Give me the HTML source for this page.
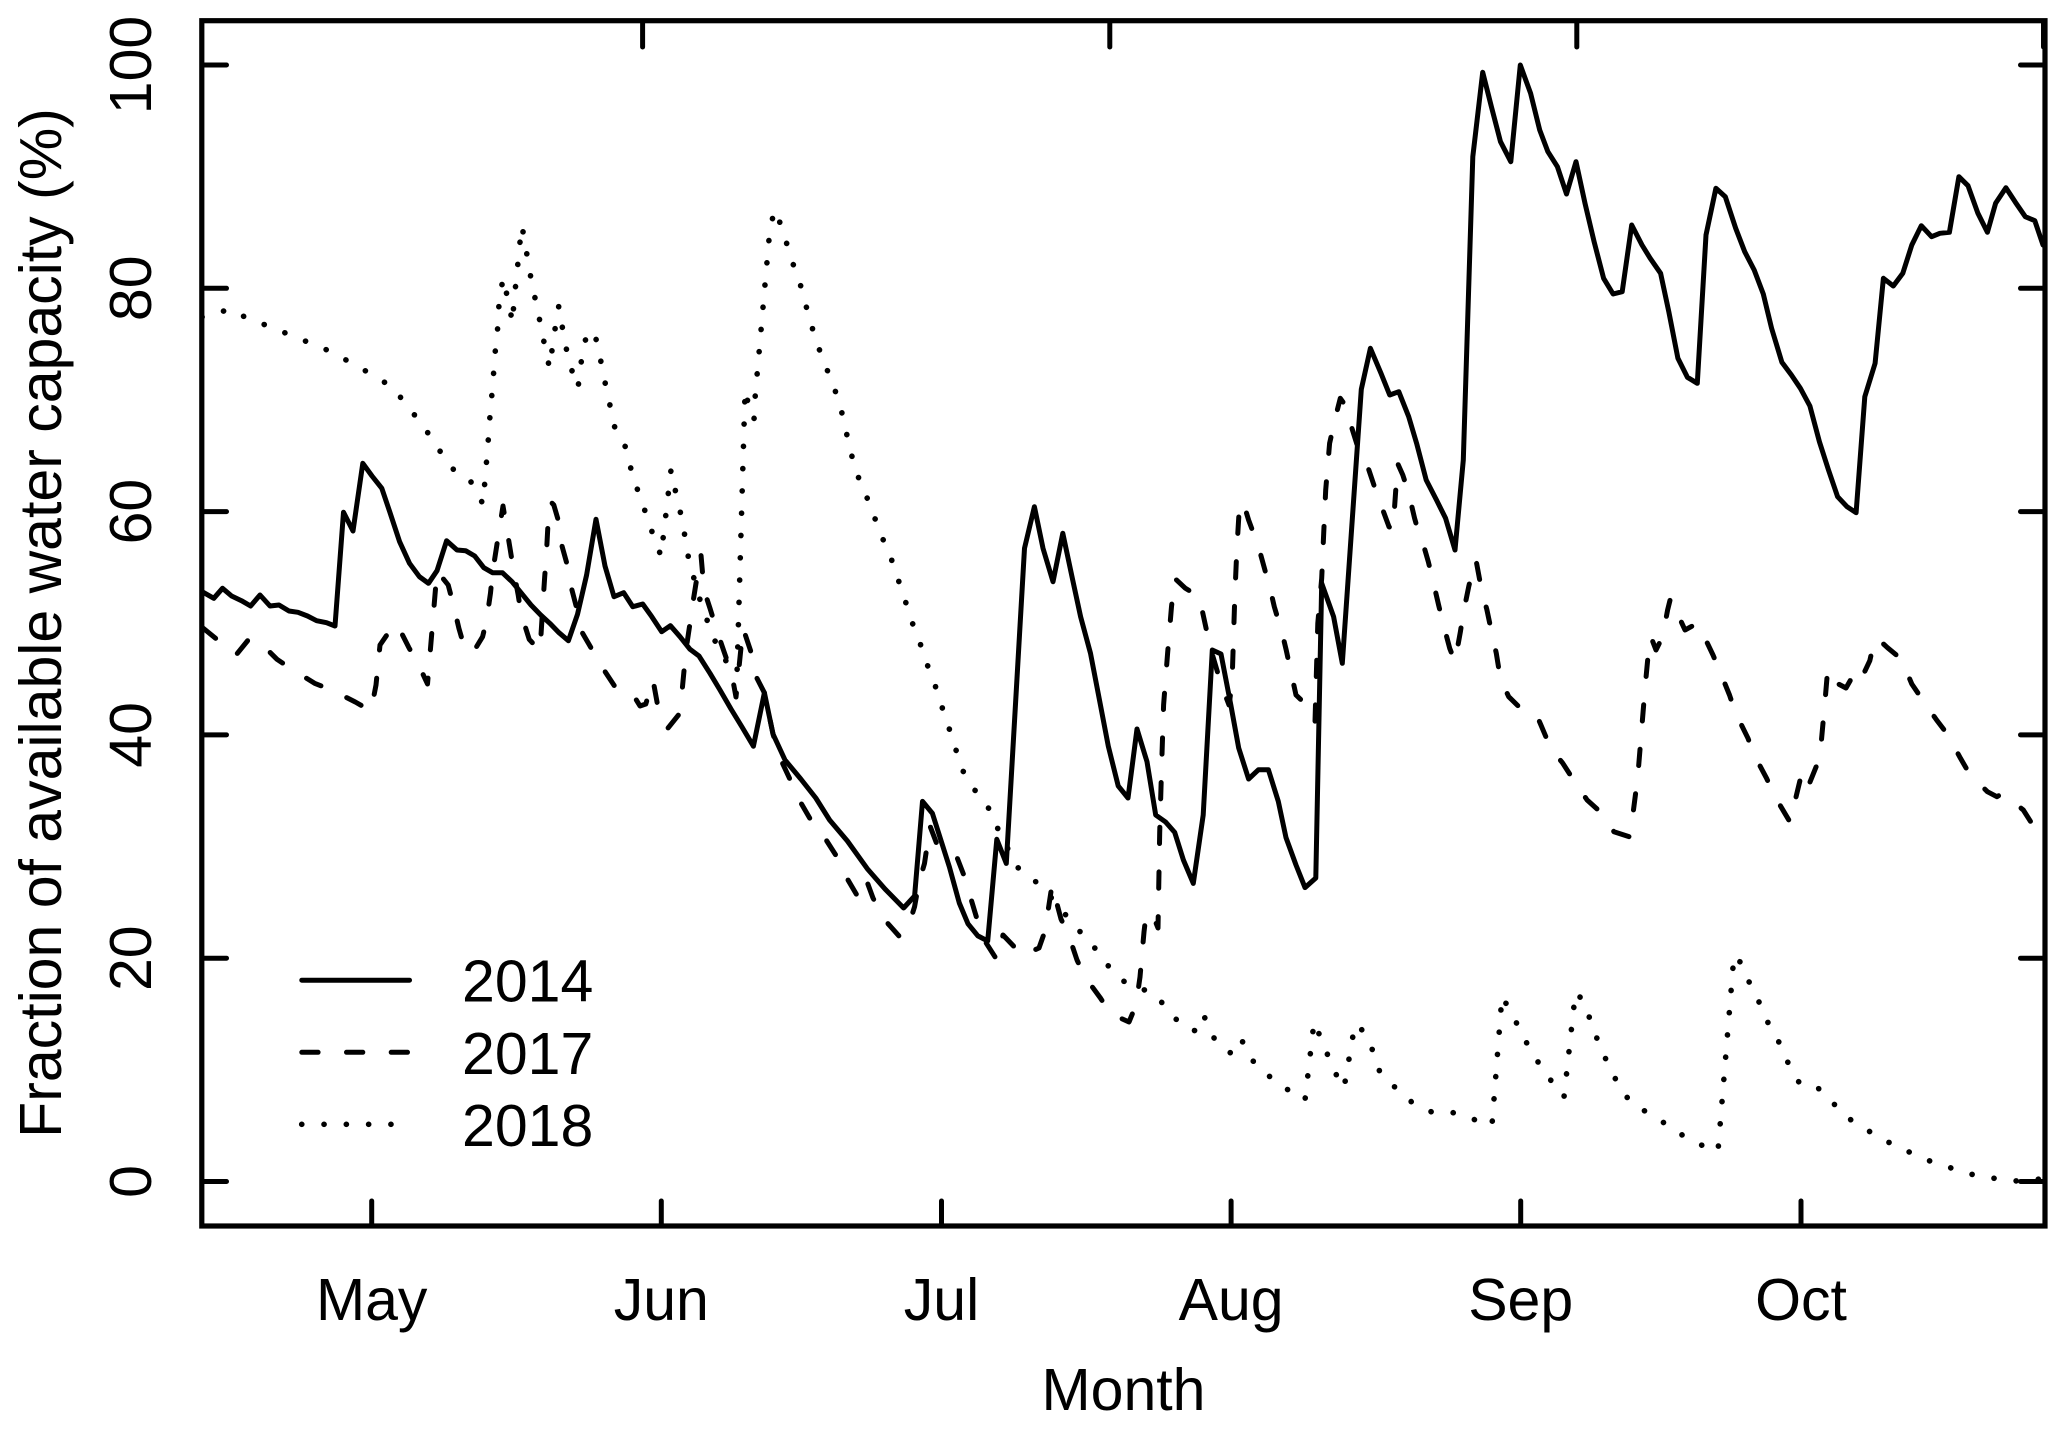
<!DOCTYPE html>
<html>
<head>
<meta charset="utf-8">
<style>
html,body{margin:0;padding:0;background:#fff;}
svg{display:block;}
text{font-family:"Liberation Sans",Arial,Helvetica,sans-serif;font-size:59px;fill:#000;}
</style>
</head>
<body>
<svg width="2067" height="1429" viewBox="0 0 2067 1429" xmlns="http://www.w3.org/2000/svg">
<rect x="0" y="0" width="2067" height="1429" fill="#fff"/>
<defs>
<clipPath id="pa"><rect x="202" y="21" width="1843" height="1205"/></clipPath>
</defs>

<g clip-path="url(#pa)" fill="none" stroke="#000" stroke-linejoin="round" stroke-linecap="round">
<!-- 2014 solid -->
<polyline stroke-width="5" points="201,591 213.8,598.3 222.5,588.3 231.6,596 241.5,600.7 250.6,606 260,595 270,606 279,605 289,611 298,612.3 307.5,616 316.6,620.7 326.5,622.7 335,626 343.5,512.3 353,531 362.8,463.3 372,476 381.8,488.3 389.7,511.7 399.6,541.7 409.5,563.3 419.4,576.7 428.5,583.3 437,570.7 446.6,540.7 457,550 465.6,550.7 474.7,556 483.8,567.7 492.5,572.7 502.4,572.7 512,581.7 521,592.7 531,605 540.7,615 549.8,623.3 559,632.7 568.4,640.7 577.5,614.3 586.6,575 596,519.3 605,566 614,596.7 623.7,592.7 632.8,606.7 642.7,604 651.8,616.7 661.7,631.7 670.4,625.7 680,636.7 690,649.3 699,656 710,673.3 720,690 731,709 742,727 753.4,746.2 764.4,692.8 773,734 785,760 800.8,779 815.8,798 829.6,820 847.4,841 867.2,868.6 885,889 903.6,908 914.6,896 922.5,801.4 932.4,813.4 949.4,867 959.3,903 968,923.8 977.9,935.9 987.7,941 996.8,839.3 1006.3,863.4 1024.5,548.3 1034.4,506.7 1043,548.3 1053,581.7 1062.8,533.3 1072.7,580 1080.6,616.7 1090.5,653.3 1100.4,704.8 1108.3,746.2 1118.2,785.9 1128,798 1137,729 1147,761.7 1155.7,815 1165.6,822 1174.7,832.4 1183.4,860 1193.3,883.4 1203.2,815 1212.3,650 1221,654 1230.8,704.8 1238.7,748 1248.6,779 1258.5,769.7 1268.4,769.7 1278.3,801.4 1286,837.6 1296,865 1305,887.6 1315.8,878 1321.7,583.3 1333.6,616.7 1342.3,663.3 1361.3,389.3 1370.4,348.3 1381,373.3 1389.7,395 1398.8,391.7 1408.7,416.7 1416.6,443.3 1426.2,480 1436.5,500 1445.6,518.3 1455,550 1463.3,460 1472.8,156.7 1482.7,72.3 1491.4,106.7 1500.5,141.7 1510.8,161.7 1520.3,65 1530.6,93.3 1539.7,130 1547.9,151.7 1557.4,166.7 1566.5,194 1576,161.7 1585,203.3 1594.1,241.7 1603.6,278.3 1613.1,294 1622.2,291.7 1631.7,225 1642,245 1650.2,258.3 1660.6,273.3 1668.8,311.7 1677.9,358.3 1687.4,377.3 1697.3,383.3 1706,235 1715.9,188.3 1725.3,196.7 1735.7,228.3 1744.7,251.7 1754.2,270 1763.3,294 1771.6,328.3 1781.9,362.3 1791.4,375 1800.4,388.3 1809.9,406 1819.4,441.7 1828.5,470 1837.6,496.7 1847,506.7 1856.1,512.7 1864.8,396.7 1875.1,363.3 1883.4,278.3 1893.3,286 1902.8,273.3 1911.8,245 1921.3,225.7 1931.6,236.7 1939.9,233.3 1949.4,232.3 1958.9,176.7 1968,185.7 1977.9,213.3 1987.4,232.3 1995.6,203.3 2005.9,187.7 2015.4,202.3 2025.3,216.7 2034.8,220.7 2043,245"/>

<!-- 2017 dashed -->
<polyline stroke-width="5" stroke-dasharray="16.3 28.4" points="203,628 236,655 249,639 258.5,641 277,659.3 292,669.3 314.6,683.3 331.6,690 355.3,702 371,711 376,685 380,645 392.5,626.7 397,624 408.7,647.3 418.2,664 427.5,684 437,571 448.2,585 453,603.3 458.9,628.3 464,646 472.7,653 482.6,636.7 486.6,620 490.5,593 492.5,573 496.4,548 499.2,530 503,506 510.3,550 513.4,569.3 518.2,595 521,613.3 529.2,639.3 540,651 543,602.7 544.7,576.7 546.2,557.7 548.6,512.7 551,502 553.8,505 557.7,518.3 561.7,545 566.8,563.3 571.5,588.3 576.3,606.7 582.6,633.3 591.3,648.3 605.1,671.7 615,686.7 630.8,691 640,706 645.8,704 653,680 658.5,710 665.6,725.5 668,728 678.3,715.2 681.4,698 686,650 690,623.3 692,608.3 696,583.3 699.2,563.3 701,555 704,590 710,608.3 717.8,633.3 723.7,650.7 731.6,673.3 736,697 743,628 751,652 755.3,675 764.4,692.8 773,734 781,760 789,777.2 800,801.4 810,818.6 825.7,839.3 835.6,854.8 847.4,879 858,897 866,879 873,898 885,920.3 899,936 908.7,925.5 914.6,906.6 918.6,884 924.5,863.4 930,826 936.4,842.8 948.2,846.2 956,854.8 966,880.7 970.7,898 977.9,922 983.8,939.3 997,960 1003,935 1015.4,948 1025.3,944.5 1030,952 1039,948 1045,931 1052,885 1061,919 1069,936 1077,960 1085,977 1100.4,998 1110.3,1013.4 1129,1022 1136,1005 1140,977 1144,932 1146,915 1152,913 1158,928 1159.7,832.4 1161.7,763.4 1163.6,704.8 1167.6,653.3 1171.5,606.7 1174.7,578.3 1185.4,588.3 1199.2,596.7 1203.2,615 1209,641.7 1213,656.7 1221,684 1229,705 1232,684 1234.8,596.7 1236.8,550 1239.5,505 1241,502 1243.5,503.3 1248.6,520 1258.5,546.7 1270.4,590 1274.3,606.7 1282.2,633.3 1286.2,650 1292,676.7 1296,695 1309.9,708.3 1315,722 1317.8,623.3 1321.7,578.3 1323.7,533.3 1325.7,490 1329.6,443.3 1335.6,416.7 1340.3,398.3 1347.4,408.3 1351.4,426.7 1359.3,451.7 1367.2,465 1375,488.3 1381,505 1389,526.7 1393,530 1397.6,463.3 1402.8,475 1408.7,493.3 1414.6,518.3 1419.8,536.7 1422,540 1428.3,561.7 1432.4,578.3 1438.6,605 1442.7,621.7 1449.7,648.3 1455,661.7 1460.4,631.7 1463.3,613.3 1468.7,586.7 1472.8,569.3 1476,560 1481.9,591.7 1486.8,609.3 1492.2,635 1496.3,653.3 1500.5,679.3 1508.7,696.7 1527.3,715 1537.6,717.3 1540.5,724 1551.2,749.3 1562.4,762.7 1576.8,785 1587.1,800 1605.7,816.7 1613.9,831.7 1630,837 1635.4,795 1637.9,775 1641.6,730 1645.3,685 1649.4,641.7 1651,637 1656,650 1662.6,636.7 1667.6,610 1670.5,598.3 1685,630 1697.3,623.3 1701.4,630.7 1713,655 1720,671.7 1729.5,695 1735.7,713.3 1748,738.3 1754.2,755 1766.6,778.3 1774,795 1790,822 1801.7,773.3 1808,787 1818.2,761.7 1821.1,744 1825.2,699 1827.7,669.3 1836,682.7 1846,688 1856.6,669.3 1862.3,676.7 1869.8,660.7 1873.9,642.7 1877,638 1887.5,647.7 1901.5,659.3 1911.8,684 1922.2,699.3 1936.6,720 1947.3,734 1960.5,758.3 1969.6,774 1987.4,791.7 1996.9,796.7 2002.6,793.3 2023.3,810 2032.8,825 2043,838"/>

<!-- 2018 dotted -->
<polyline stroke-width="5.6" stroke-dasharray="0.1 22.2" points="202,317 231,309 250,320 272,327 292,336 313,344 334,353 353,364 373,375 392,387 406,404 420,422 433,440 445,459 458,475 471,482 483,504 486.6,460.7 488.4,438.3 490,415.7 492,393.3 493.8,370.7 495.5,348.3 497.8,326.7 499,304 503,278 509,304 512.5,323 514.3,296.7 517,274.3 518.8,251.7 522,226 525.9,248.3 529.5,270.7 534,293.3 538.7,315.3 543,337.3 549.5,368 551.4,354.7 554.5,332.3 558.8,306 561.7,323.7 565.6,345.7 570.8,367.3 578,388 581,363.3 585,341 590,330 596,339 600.8,361 605.1,382.7 609.9,405 614.6,426.7 625.3,446.7 630.8,468.3 637.5,489.7 645,511 652.2,532.3 661,556 666,513.3 671,470 676.3,495 681.4,516.7 685.4,539 689,561 695,582 701.2,604 709.1,625.7 717,646 728.9,665.7 737,674 744.7,402.7 746,390 747.4,400 754,420 755.3,394.3 759.3,350 765.2,282.3 769.2,237.3 774,210 777.9,216.7 785,237.7 791.3,259.3 799.2,280.3 805,302 811,324 818,346 826,367 834,387 841,409 846,431 851,453 857,474 866,495 874,516 882,537 891,558 898,579 905,600 912,622 920,643 927,664 935,685 942,707 949,728 956,750 963,771 974,789 988,807 997,827 1017,867 1031,877 1044,890 1060,907 1073,925 1089,940 1102,958 1116,975.5 1129,985 1154,993 1168,1010 1183,1027 1196,1031 1203.6,1015 1213,1037 1230,1053 1240.7,1038 1251,1059 1267,1074.5 1285,1088 1305,1100 1314,1022 1325,1048 1333,1069 1344,1088 1355,1024 1362,1030 1372.5,1050 1379.5,1071 1394.7,1087 1411.6,1102 1431.7,1112 1451,1112 1472.4,1119 1492,1125 1502,996 1515,1020 1525,1040 1536,1059 1549,1078 1564,1097 1575.5,992 1583.5,1001 1591,1022 1599,1044 1608,1064 1618,1084 1631,1103 1650,1114 1669,1126 1688,1139 1708,1148 1718,1151 1734,955 1741,963 1750,984 1760,1004 1769,1025 1780,1044 1789,1065 1800,1084 1817,1087 1832,1102 1848,1118 1867,1130 1886,1141 1907,1151 1927,1160 1948,1167 1970,1174 1992,1178 2014,1181 2035,1180 2043,1178"/>
</g>

<!-- Box -->
<rect x="201.8" y="20.7" width="1843.2" height="1205.3" fill="none" stroke="#000" stroke-width="5.2" stroke-linejoin="miter"/>

<!-- Ticks -->
<g stroke="#000" stroke-width="5" stroke-linecap="round">
<line x1="202" y1="1181.5" x2="226.5" y2="1181.5"/>
<line x1="202" y1="958.2" x2="226.5" y2="958.2"/>
<line x1="202" y1="734.9" x2="226.5" y2="734.9"/>
<line x1="202" y1="511.6" x2="226.5" y2="511.6"/>
<line x1="202" y1="288.3" x2="226.5" y2="288.3"/>
<line x1="202" y1="65" x2="226.5" y2="65"/>
<line x1="2020.5" y1="1181.5" x2="2045" y2="1181.5"/>
<line x1="2020.5" y1="958.2" x2="2045" y2="958.2"/>
<line x1="2020.5" y1="734.9" x2="2045" y2="734.9"/>
<line x1="2020.5" y1="511.6" x2="2045" y2="511.6"/>
<line x1="2020.5" y1="288.3" x2="2045" y2="288.3"/>
<line x1="2020.5" y1="65" x2="2045" y2="65"/>
<line x1="371.7" y1="1226" x2="371.7" y2="1201"/>
<line x1="661.3" y1="1226" x2="661.3" y2="1201"/>
<line x1="941.5" y1="1226" x2="941.5" y2="1201"/>
<line x1="1231.1" y1="1226" x2="1231.1" y2="1201"/>
<line x1="1520.7" y1="1226" x2="1520.7" y2="1201"/>
<line x1="1801" y1="1226" x2="1801" y2="1201"/>
<line x1="642.6" y1="21" x2="642.6" y2="47"/>
<line x1="1109.8" y1="21" x2="1109.8" y2="47"/>
<line x1="1576.8" y1="21" x2="1576.8" y2="47"/>
<line x1="2043.5" y1="21" x2="2043.5" y2="47"/>
</g>

<!-- Y tick labels (rotated) -->
<g text-anchor="middle">
<text transform="translate(151,1181.5) rotate(-90)">0</text>
<text transform="translate(151,958.2) rotate(-90)">20</text>
<text transform="translate(151,734.9) rotate(-90)">40</text>
<text transform="translate(151,511.6) rotate(-90)">60</text>
<text transform="translate(151,288.3) rotate(-90)">80</text>
<text transform="translate(151,65) rotate(-90)">100</text>
</g>

<!-- X month labels -->
<g text-anchor="middle">
<text x="371.7" y="1320">May</text>
<text x="661.3" y="1320">Jun</text>
<text x="941.5" y="1320">Jul</text>
<text x="1231.1" y="1320">Aug</text>
<text x="1520.7" y="1320">Sep</text>
<text x="1801" y="1320">Oct</text>
</g>

<!-- Axis titles -->
<text x="1123.5" y="1410" text-anchor="middle">Month</text>
<text transform="translate(61,623) rotate(-90)" text-anchor="middle">Fraction of available water capacity (%)</text>

<!-- Legend -->
<g fill="none" stroke="#000" stroke-linecap="round">
<line x1="301.8" y1="980.2" x2="409.5" y2="980.2" stroke-width="5"/>
<line x1="301.8" y1="1052.3" x2="410" y2="1052.3" stroke-width="5" stroke-dasharray="16.3 28.4"/>
<line x1="301.7" y1="1124.3" x2="395" y2="1124.3" stroke-width="5.6" stroke-dasharray="0.1 22.2"/>
</g>
<text x="462" y="1001.5">2014</text>
<text x="462" y="1074">2017</text>
<text x="462" y="1146">2018</text>
</svg>
</body>
</html>
